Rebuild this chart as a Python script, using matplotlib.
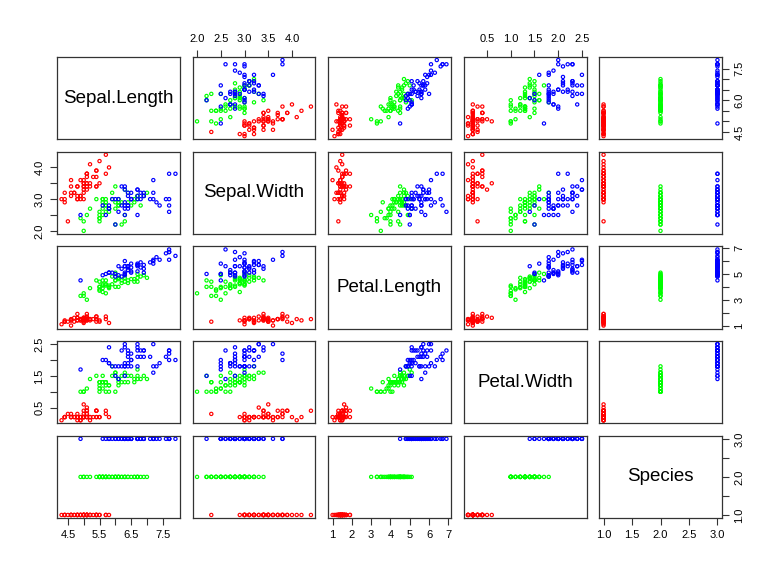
import matplotlib.pyplot as plt
import matplotlib
import numpy as np

matplotlib.rcParams['font.family'] = ['Liberation Sans', 'DejaVu Sans']

# iris (R datasets) - 50 setosa, 50 versicolor, 50 virginica
sepal_length = [
    5.1, 4.9, 4.7, 4.6, 5.0, 5.4, 4.6, 5.0, 4.4, 4.9, 5.4, 4.8, 4.8, 4.3, 5.8, 5.7, 5.4, 5.1, 5.7, 5.1,
    5.4, 5.1, 4.6, 5.1, 4.8, 5.0, 5.0, 5.2, 5.2, 4.7, 4.8, 5.4, 5.2, 5.5, 4.9, 5.0, 5.5, 4.9, 4.4, 5.1,
    5.0, 4.5, 4.4, 5.0, 5.1, 4.8, 5.1, 4.6, 5.3, 5.0,
    7.0, 6.4, 6.9, 5.5, 6.5, 5.7, 6.3, 4.9, 6.6, 5.2, 5.0, 5.9, 6.0, 6.1, 5.6, 6.7, 5.6, 5.8, 6.2, 5.6,
    5.9, 6.1, 6.3, 6.1, 6.4, 6.6, 6.8, 6.7, 6.0, 5.7, 5.5, 5.5, 5.8, 6.0, 5.4, 6.0, 6.7, 6.3, 5.6, 5.5,
    5.5, 6.1, 5.8, 5.0, 5.6, 5.7, 5.7, 6.2, 5.1, 5.7,
    6.3, 5.8, 7.1, 6.3, 6.5, 7.6, 4.9, 7.3, 6.7, 7.2, 6.5, 6.4, 6.8, 5.7, 5.8, 6.4, 6.5, 7.7, 7.7, 6.0,
    6.9, 5.6, 7.7, 6.3, 6.7, 7.2, 6.2, 6.1, 6.4, 7.2, 7.4, 7.9, 6.4, 6.3, 6.1, 7.7, 6.3, 6.4, 6.0, 6.9,
    6.7, 6.9, 5.8, 6.8, 6.7, 6.7, 6.3, 6.5, 6.2, 5.9]
sepal_width = [
    3.5, 3.0, 3.2, 3.1, 3.6, 3.9, 3.4, 3.4, 2.9, 3.1, 3.7, 3.4, 3.0, 3.0, 4.0, 4.4, 3.9, 3.5, 3.8, 3.8,
    3.4, 3.7, 3.6, 3.3, 3.4, 3.0, 3.4, 3.5, 3.4, 3.2, 3.1, 3.4, 4.1, 4.2, 3.1, 3.2, 3.5, 3.6, 3.0, 3.4,
    3.5, 2.3, 3.2, 3.5, 3.8, 3.0, 3.8, 3.2, 3.7, 3.3,
    3.2, 3.2, 3.1, 2.3, 2.8, 2.8, 3.3, 2.4, 2.9, 2.7, 2.0, 3.0, 2.2, 2.9, 2.9, 3.1, 3.0, 2.7, 2.2, 2.5,
    3.2, 2.8, 2.5, 2.8, 2.9, 3.0, 2.8, 3.0, 2.9, 2.6, 2.4, 2.4, 2.7, 2.7, 3.0, 3.4, 3.1, 2.3, 3.0, 2.5,
    2.6, 3.0, 2.6, 2.3, 2.7, 3.0, 2.9, 2.9, 2.5, 2.8,
    3.3, 2.7, 3.0, 2.9, 3.0, 3.0, 2.5, 2.9, 2.5, 3.6, 3.2, 2.7, 3.0, 2.5, 2.8, 3.2, 3.0, 3.8, 2.6, 2.2,
    3.2, 2.8, 2.8, 2.7, 3.3, 3.2, 2.8, 3.0, 2.8, 3.0, 2.8, 3.8, 2.8, 2.8, 2.6, 3.0, 3.4, 3.1, 3.0, 3.1,
    3.1, 3.1, 2.7, 3.2, 3.3, 3.0, 2.5, 3.0, 3.4, 3.0]
petal_length = [
    1.4, 1.4, 1.3, 1.5, 1.4, 1.7, 1.4, 1.5, 1.4, 1.5, 1.5, 1.6, 1.4, 1.1, 1.2, 1.5, 1.3, 1.4, 1.7, 1.5,
    1.7, 1.5, 1.0, 1.7, 1.9, 1.6, 1.6, 1.5, 1.4, 1.6, 1.6, 1.5, 1.5, 1.4, 1.5, 1.2, 1.3, 1.4, 1.3, 1.5,
    1.3, 1.3, 1.3, 1.6, 1.9, 1.4, 1.6, 1.4, 1.5, 1.4,
    4.7, 4.5, 4.9, 4.0, 4.6, 4.5, 4.7, 3.3, 4.6, 3.9, 3.5, 4.2, 4.0, 4.7, 3.6, 4.4, 4.5, 4.1, 4.5, 3.9,
    4.8, 4.0, 4.9, 4.7, 4.3, 4.4, 4.8, 5.0, 4.5, 3.5, 3.8, 3.7, 3.9, 5.1, 4.5, 4.5, 4.7, 4.4, 4.1, 4.0,
    4.4, 4.6, 4.0, 3.3, 4.2, 4.2, 4.2, 4.3, 3.0, 4.1,
    6.0, 5.1, 5.9, 5.6, 5.8, 6.6, 4.5, 6.3, 5.8, 6.1, 5.1, 5.3, 5.5, 5.0, 5.1, 5.3, 5.5, 6.7, 6.9, 5.0,
    5.7, 4.9, 6.7, 4.9, 5.7, 6.0, 4.8, 4.9, 5.6, 5.8, 6.1, 6.4, 5.6, 5.1, 5.6, 6.1, 5.6, 5.5, 4.8, 5.4,
    5.6, 5.1, 5.1, 5.9, 5.7, 5.2, 5.0, 5.2, 5.4, 5.1]
petal_width = [
    0.2, 0.2, 0.2, 0.2, 0.2, 0.4, 0.3, 0.2, 0.2, 0.1, 0.2, 0.2, 0.1, 0.1, 0.2, 0.4, 0.4, 0.3, 0.3, 0.3,
    0.2, 0.4, 0.2, 0.5, 0.2, 0.2, 0.4, 0.2, 0.2, 0.2, 0.2, 0.4, 0.1, 0.2, 0.2, 0.2, 0.2, 0.1, 0.2, 0.2,
    0.3, 0.3, 0.2, 0.6, 0.4, 0.3, 0.2, 0.2, 0.2, 0.2,
    1.4, 1.5, 1.5, 1.3, 1.5, 1.3, 1.6, 1.0, 1.3, 1.4, 1.0, 1.5, 1.0, 1.4, 1.3, 1.4, 1.5, 1.0, 1.5, 1.1,
    1.8, 1.3, 1.5, 1.2, 1.3, 1.4, 1.4, 1.7, 1.5, 1.0, 1.1, 1.0, 1.2, 1.6, 1.5, 1.6, 1.5, 1.3, 1.3, 1.3,
    1.2, 1.4, 1.2, 1.0, 1.3, 1.2, 1.3, 1.3, 1.1, 1.3,
    2.5, 1.9, 2.1, 1.8, 2.2, 2.1, 1.7, 1.8, 1.8, 2.5, 2.0, 1.9, 2.1, 2.0, 2.4, 2.3, 1.8, 2.2, 2.3, 1.5,
    2.3, 2.0, 2.0, 1.8, 2.1, 1.8, 1.8, 1.8, 2.1, 1.6, 1.9, 2.0, 2.2, 1.5, 1.4, 2.3, 2.4, 1.8, 1.8, 2.1,
    2.4, 2.3, 1.9, 2.3, 2.5, 2.3, 1.9, 2.0, 2.3, 1.8]
species = [1] * 50 + [2] * 50 + [3] * 50

var_names = ['Sepal.Length', 'Sepal.Width', 'Petal.Length', 'Petal.Width', 'Species']
species_colors = ['red', '#00ff00', 'blue']

# ticks (positions and labels) per variable, for the two sides
ticks = [
    [4.5, 5.0, 5.5, 6.0, 6.5, 7.0, 7.5],
    [2.0, 2.5, 3.0, 3.5, 4.0],
    [1, 2, 3, 4, 5, 6, 7],
    [0.5, 1.0, 1.5, 2.0, 2.5],
    [1.0, 1.5, 2.0, 2.5, 3.0],
]
labels_h = [
    ['4.5', '', '5.5', '', '6.5', '', '7.5'],
    ['2.0', '2.5', '3.0', '3.5', '4.0'],
    ['1', '2', '3', '4', '5', '6', '7'],
    ['0.5', '1.0', '1.5', '2.0', '2.5'],
    ['1.0', '1.5', '2.0', '2.5', '3.0'],
]
labels_v = [
    ['4.5', '', '', '6.0', '', '', '7.5'],
    ['2.0', '', '3.0', '', '4.0'],
    ['1', '', '3', '', '5', '', '7'],
    ['0.5', '', '1.5', '', '2.5'],
    ['1.0', '', '2.0', '', '3.0'],
]

data = [np.array(sepal_length), np.array(sepal_width), np.array(petal_length),
        np.array(petal_width), np.array(species, dtype=float)]
cols = [species_colors[s - 1] for s in species]

W, H = 779, 575
fig = plt.figure(figsize=(W / 100, H / 100), dpi=100, facecolor='white')

left0, top0 = 57, 57
pw, ph, gap = 123, 82.2, 12.5


def lims(v):
    lo, hi = v.min(), v.max()
    d = (hi - lo) * 0.04
    return lo - d, hi + d


for i in range(5):      # row
    for j in range(5):  # column
        x0 = left0 + j * (pw + gap)
        y0 = top0 + i * (ph + gap)
        ax = fig.add_axes([x0 / W, 1 - (y0 + ph) / H, pw / W, ph / H])
        for sp in ax.spines.values():
            sp.set_linewidth(0.9)
            sp.set_color('#333333')
        ax.set_xlim(lims(data[j]))
        ax.set_ylim(lims(data[i]))
        if i == j:
            ax.text(0.5, 0.5, var_names[i], transform=ax.transAxes,
                    ha='center', va='center', fontsize=13.5)
        else:
            ax.scatter(data[j], data[i], s=5.5, facecolors='none', edgecolors=cols,
                       linewidths=0.85)

        ax.tick_params(length=5, width=0.8, labelsize=8, pad=4, color='#333333')
        # x axis: top for even columns (2, 4) on the first row, bottom for odd on the last row
        if i == 0 and j % 2 == 1:
            ax.xaxis.tick_top()
            ax.set_xticks(ticks[j])
            ax.set_xticklabels(labels_h[j])
        elif i == 4 and j % 2 == 0:
            ax.set_xticks(ticks[j])
            ax.set_xticklabels(labels_h[j])
        else:
            ax.set_xticks([])
        # y axis: left for rows 2, 4 on the first column, right for rows 1, 3, 5 on the last
        if j == 0 and i % 2 == 1:
            ax.set_yticks(ticks[i])
            ax.set_yticklabels(labels_v[i], rotation=90, va='center', ha='right')
        elif j == 4 and i % 2 == 0:
            ax.yaxis.tick_right()
            ax.set_yticks(ticks[i])
            ax.set_yticklabels(labels_v[i], rotation=90, va='center', ha='left')
        else:
            ax.set_yticks([])

fig.savefig('out.png', dpi=100, facecolor='white')
